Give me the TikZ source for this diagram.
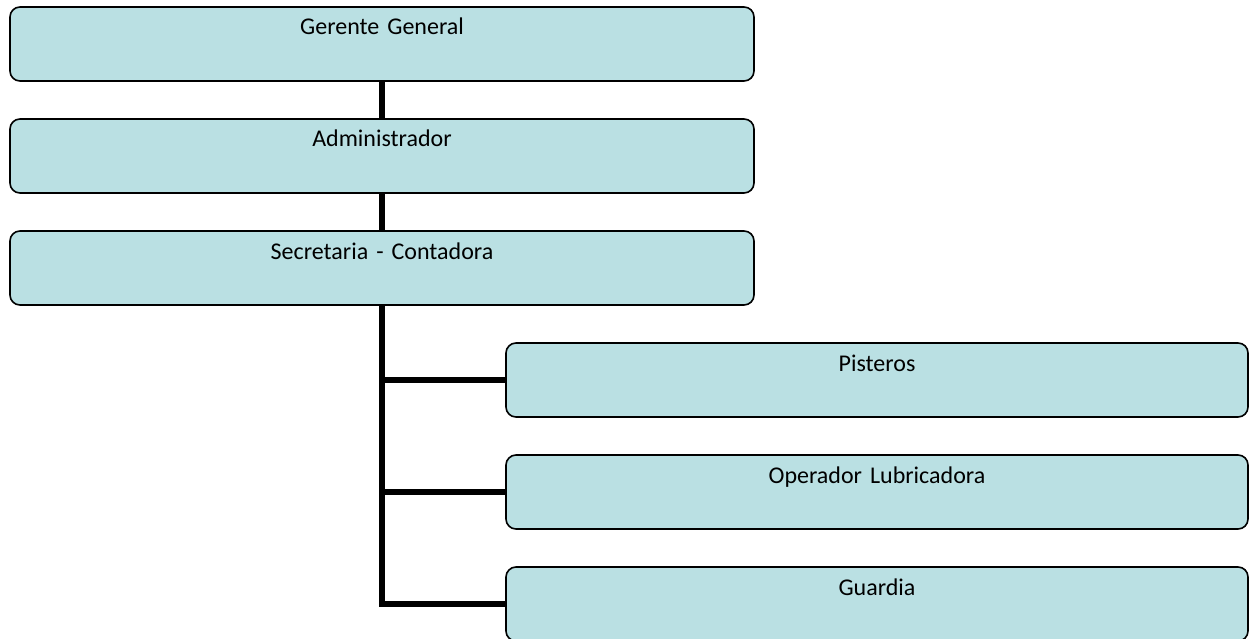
\documentclass[tikz,border=0pt]{standalone}
\usepackage{fontspec}
\setmainfont{Carlito}
\definecolor{boxfill}{RGB}{186,224,227}
\begin{document}
\begin{tikzpicture}[x=1pt,y=-1pt,
  orgbox/.style={draw=black,line width=1.6pt,fill=boxfill,rounded corners=10pt,
    inner sep=0pt,text width=#1,align=center,text height=28pt,text depth=46pt,
    font=\fontsize{24}{27}\selectfont},
  orgbox/.default=744pt,
  conn/.style={line width=5.5pt,line join=miter}]
\useasboundingbox (0,0) rectangle (1249,639);
\node[orgbox] (g) at (382,44) {Gerente General};
\node[orgbox] (a) at (382,156) {Administrador};
\node[orgbox] (s) at (382,268) {Secretaria - Contadora};
\node[orgbox=742pt] (p) at (877,380) {Pisteros};
\node[orgbox=742pt] (o) at (877,492) {Operador Lubricadora};
\node[orgbox=742pt] (gu) at (877,604) {Guardia};
\draw[conn] (g.south) -- (a.north);
\draw[conn] (a.south) -- (s.north);
\draw[conn] (s.south) |- (gu.west);
\draw[conn] (s.south |- p.west) -- (p.west);
\draw[conn] (s.south |- o.west) -- (o.west);
\end{tikzpicture}
\end{document}
